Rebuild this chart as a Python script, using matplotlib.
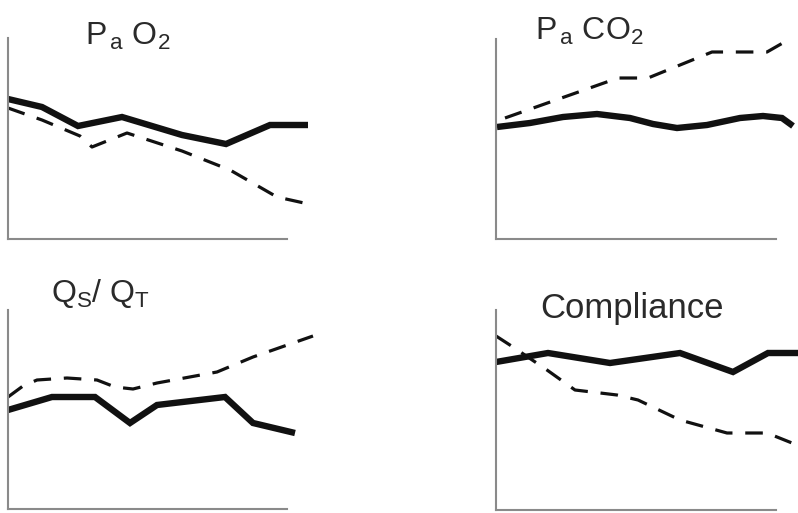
import matplotlib
matplotlib.use('Agg')
import matplotlib.pyplot as plt

plt.rcParams['font.family'] = ['Liberation Sans', 'DejaVu Sans']
plt.rcParams['mathtext.fontset'] = 'custom'
plt.rcParams['mathtext.rm'] = 'Liberation Sans'
plt.rcParams['mathtext.it'] = 'Liberation Sans'
plt.rcParams['mathtext.default'] = 'rm'

# VALUES (x = time, y = level, arbitrary units)
pao2_solid_x = [0, 34, 70, 114, 174, 218, 262, 300]
pao2_solid_y = [140, 132, 113, 122, 104, 95, 114, 114]
pao2_dash_x = [0, 34, 72, 84, 119, 174, 222, 269, 305]
pao2_dash_y = [131, 119, 103, 92, 106, 88, 69, 42, 34]

paco2_solid_x = [1, 34, 67, 101, 134, 157, 181, 211, 244, 267, 286, 297]
paco2_solid_y = [112, 116, 122, 125, 121, 115, 111, 114, 121, 123, 121, 113]
paco2_dash_x = [9, 122, 152, 216, 271, 292]
paco2_dash_y = [121, 161, 161, 187, 187, 199]

qsqt_solid_x = [0, 44, 87, 122, 149, 217, 245, 287]
qsqt_solid_y = [99, 112, 112, 86, 104, 112, 86, 76]
qsqt_dash_x = [0, 15, 29, 59, 89, 107, 125, 149, 209, 245, 305]
qsqt_dash_y = [112, 123, 129, 131, 129, 122, 120, 126, 137, 152, 173]

comp_solid_x = [0, 52, 114, 184, 237, 272, 302]
comp_solid_y = [148, 157, 147, 157, 138, 157, 157]
comp_dash_x = [0, 17, 51, 79, 121, 142, 184, 231, 271, 301]
comp_dash_y = [174, 163, 140, 120, 115, 110, 90, 77, 77, 65]

titles = [r'P$_{\,a}$ O$_{2}$', r'P$_{\,a}$ CO$_{2}$', r'Q$_{S}$/ Q$_{T}$', 'Compliance']

W, H = 798, 513


def make_panel(fig, box, solid_x, solid_y, dash_x, dash_y):
    # BOX IS (LEFT, TOP, RIGHT, BOTTOM) IN PIXELS
    left, top, right, bottom = box
    ax = fig.add_axes([left / W, 1 - bottom / H, (right - left) / W, (bottom - top) / H])
    ax.set_xlim(0, right - left)
    ax.set_ylim(0, bottom - top)
    ax.plot(solid_x, solid_y, '-', color='#111111', lw=4.6, clip_on=False,
            solid_joinstyle='miter', solid_capstyle='butt')
    ax.plot(dash_x, dash_y, '--', color='#111111', lw=2.3, dashes=(5.5, 4.0), clip_on=False)
    for s in ['top', 'right']:
        ax.spines[s].set_visible(False)
    for s in ['left', 'bottom']:
        ax.spines[s].set_color('#8a8a8a')
        ax.spines[s].set_linewidth(1.5)
    ax.set_xticks([])
    ax.set_yticks([])
    ax.patch.set_alpha(0)
    return ax


def main():
    fig = plt.figure(figsize=(W / 100, H / 100), dpi=100)

    make_panel(fig, (8, 38, 287, 239), pao2_solid_x, pao2_solid_y, pao2_dash_x, pao2_dash_y)
    make_panel(fig, (496, 39, 776, 239), paco2_solid_x, paco2_solid_y, paco2_dash_x, paco2_dash_y)
    make_panel(fig, (8, 310, 287, 509), qsqt_solid_x, qsqt_solid_y, qsqt_dash_x, qsqt_dash_y)
    make_panel(fig, (496, 310, 776, 510), comp_solid_x, comp_solid_y, comp_dash_x, comp_dash_y)

    # TITLES, PLACED BY PIXEL (CENTER X, BASELINE Y)
    spots = [(128, 45, 23), (589, 40, 23), (101, 302, 23), (632, 318, 25)]
    for t, (cx, by, fs) in zip(titles, spots):
        fig.text(cx / W, 1 - by / H, t, ha='center', va='baseline', fontsize=fs, color='#2a2a2a')

    fig.savefig('out.png', dpi=100)


if __name__ == '__main__':
    main()
